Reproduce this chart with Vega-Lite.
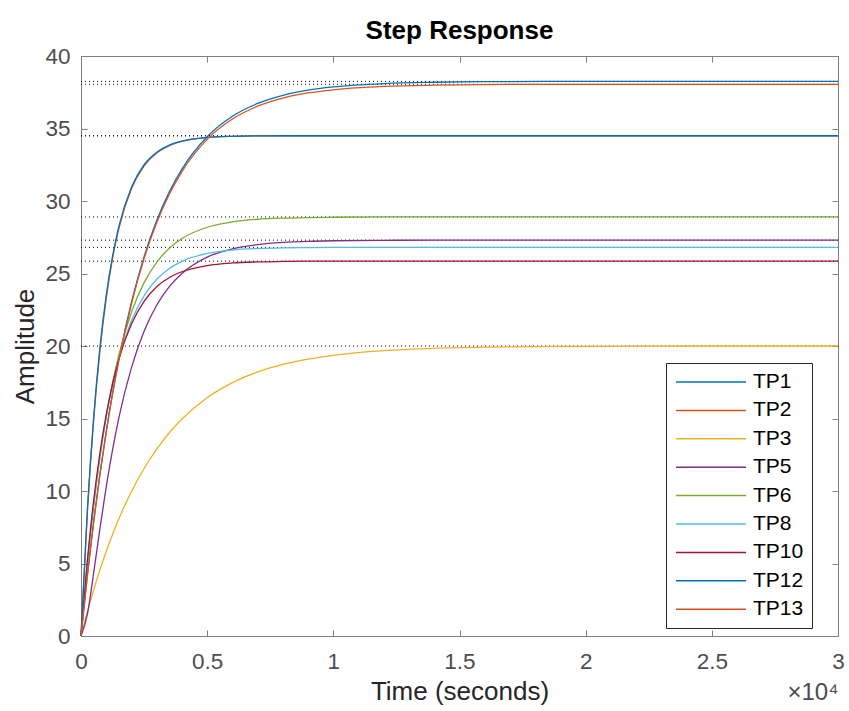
{
  "$schema": "https://vega.github.io/schema/vega-lite/v6.json",
  "width": 757,
  "height": 580,
  "autosize": {"type": "none"},
  "padding": {"left": 81, "top": 56, "right": 11, "bottom": 75},
  "background": "white",
  "title": {"text": "Step Response", "fontSize": 26, "fontWeight": "bold", "color": "#000000", "offset": 1, "anchor": "middle", "font": "Liberation Sans"},
  "config": {
    "font": "Liberation Sans",
    "view": {"stroke": "#7f7f7f", "strokeWidth": 1},
    "axis": {"grid": false, "domain": false, "tickColor": "#7f7f7f", "tickSize": -6, "labelFontSize": 22.5, "labelColor": "#4d4d4d", "titleFontSize": 26, "titleFontWeight": "normal", "titleColor": "#262626", "labelFlush": false}
  },
  "datasets": {
    "ss": [
      {"s": "TP1", "v": 38.25}, {"s": "TP13", "v": 38.05}, {"s": "TP2", "v": 34.5}, {"s": "TP12", "v": 34.5},
      {"s": "TP6", "v": 28.9}, {"s": "TP5", "v": 27.3}, {"s": "TP8", "v": 26.8}, {"s": "TP10", "v": 25.85}, {"s": "TP3", "v": 20.0}
    ],
    "curves": [
      {"s":"TP1","t":0,"a":0},{"s":"TP1","t":250,"a":4.16},{"s":"TP1","t":500,"a":7.87},{"s":"TP1","t":750,"a":11.18},{"s":"TP1","t":1000,"a":14.12},{"s":"TP1","t":1250,"a":16.75},{"s":"TP1","t":1500,"a":19.09},{"s":"TP1","t":2000,"a":23.03},{"s":"TP1","t":2500,"a":26.16},{"s":"TP1","t":3000,"a":28.65},{"s":"TP1","t":3500,"a":30.63},{"s":"TP1","t":4000,"a":32.2},{"s":"TP1","t":5000,"a":34.43},{"s":"TP1","t":6000,"a":35.84},{"s":"TP1","t":7000,"a":36.73},{"s":"TP1","t":8000,"a":37.29},{"s":"TP1","t":9000,"a":37.65},{"s":"TP1","t":10000,"a":37.87},{"s":"TP1","t":12000,"a":38.1},{"s":"TP1","t":14000,"a":38.19},{"s":"TP1","t":16000,"a":38.23},{"s":"TP1","t":20000,"a":38.25},{"s":"TP1","t":25000,"a":38.25},{"s":"TP1","t":30000,"a":38.25},
      {"s":"TP2","t":0,"a":0},{"s":"TP2","t":250,"a":8.45},{"s":"TP2","t":500,"a":14.84},{"s":"TP2","t":750,"a":19.66},{"s":"TP2","t":1000,"a":23.29},{"s":"TP2","t":1250,"a":26.03},{"s":"TP2","t":1500,"a":28.1},{"s":"TP2","t":2000,"a":30.85},{"s":"TP2","t":2500,"a":32.42},{"s":"TP2","t":3000,"a":33.31},{"s":"TP2","t":3500,"a":33.82},{"s":"TP2","t":4000,"a":34.11},{"s":"TP2","t":5000,"a":34.37},{"s":"TP2","t":6000,"a":34.46},{"s":"TP2","t":7000,"a":34.49},{"s":"TP2","t":8000,"a":34.5},{"s":"TP2","t":9000,"a":34.5},{"s":"TP2","t":10000,"a":34.5},{"s":"TP2","t":12000,"a":34.5},{"s":"TP2","t":14000,"a":34.5},{"s":"TP2","t":16000,"a":34.5},{"s":"TP2","t":20000,"a":34.5},{"s":"TP2","t":25000,"a":34.5},{"s":"TP2","t":30000,"a":34.5},
      {"s":"TP3","t":0,"a":0},{"s":"TP3","t":250,"a":1.65},{"s":"TP3","t":500,"a":3.17},{"s":"TP3","t":750,"a":4.56},{"s":"TP3","t":1000,"a":5.83},{"s":"TP3","t":1250,"a":7.0},{"s":"TP3","t":1500,"a":8.08},{"s":"TP3","t":2000,"a":9.97},{"s":"TP3","t":2500,"a":11.55},{"s":"TP3","t":3000,"a":12.89},{"s":"TP3","t":3500,"a":14.02},{"s":"TP3","t":4000,"a":14.96},{"s":"TP3","t":5000,"a":16.43},{"s":"TP3","t":6000,"a":17.47},{"s":"TP3","t":7000,"a":18.21},{"s":"TP3","t":8000,"a":18.73},{"s":"TP3","t":9000,"a":19.1},{"s":"TP3","t":10000,"a":19.36},{"s":"TP3","t":12000,"a":19.68},{"s":"TP3","t":14000,"a":19.84},{"s":"TP3","t":16000,"a":19.92},{"s":"TP3","t":20000,"a":19.98},{"s":"TP3","t":25000,"a":20.0},{"s":"TP3","t":30000,"a":20.0},
      {"s":"TP5","t":0,"a":0},{"s":"TP5","t":250,"a":1.47},{"s":"TP5","t":500,"a":4.33},{"s":"TP5","t":750,"a":7.41},{"s":"TP5","t":1000,"a":10.29},{"s":"TP5","t":1250,"a":12.84},{"s":"TP5","t":1500,"a":15.05},{"s":"TP5","t":2000,"a":18.51},{"s":"TP5","t":2500,"a":21.02},{"s":"TP5","t":3000,"a":22.81},{"s":"TP5","t":3500,"a":24.09},{"s":"TP5","t":4000,"a":25.0},{"s":"TP5","t":5000,"a":26.13},{"s":"TP5","t":6000,"a":26.7},{"s":"TP5","t":7000,"a":26.99},{"s":"TP5","t":8000,"a":27.14},{"s":"TP5","t":9000,"a":27.22},{"s":"TP5","t":10000,"a":27.26},{"s":"TP5","t":12000,"a":27.29},{"s":"TP5","t":14000,"a":27.3},{"s":"TP5","t":16000,"a":27.3},{"s":"TP5","t":20000,"a":27.3},{"s":"TP5","t":25000,"a":27.3},{"s":"TP5","t":30000,"a":27.3},
      {"s":"TP6","t":0,"a":0},{"s":"TP6","t":250,"a":4.89},{"s":"TP6","t":500,"a":8.93},{"s":"TP6","t":750,"a":12.32},{"s":"TP6","t":1000,"a":15.12},{"s":"TP6","t":1250,"a":17.45},{"s":"TP6","t":1500,"a":19.39},{"s":"TP6","t":2000,"a":22.33},{"s":"TP6","t":2500,"a":24.37},{"s":"TP6","t":3000,"a":25.77},{"s":"TP6","t":3500,"a":26.74},{"s":"TP6","t":4000,"a":27.41},{"s":"TP6","t":5000,"a":28.19},{"s":"TP6","t":6000,"a":28.56},{"s":"TP6","t":7000,"a":28.74},{"s":"TP6","t":8000,"a":28.82},{"s":"TP6","t":9000,"a":28.86},{"s":"TP6","t":10000,"a":28.88},{"s":"TP6","t":12000,"a":28.9},{"s":"TP6","t":14000,"a":28.9},{"s":"TP6","t":16000,"a":28.9},{"s":"TP6","t":20000,"a":28.9},{"s":"TP6","t":25000,"a":28.9},{"s":"TP6","t":30000,"a":28.9},
      {"s":"TP8","t":0,"a":0},{"s":"TP8","t":250,"a":5.04},{"s":"TP8","t":500,"a":9.13},{"s":"TP8","t":750,"a":12.45},{"s":"TP8","t":1000,"a":15.15},{"s":"TP8","t":1250,"a":17.34},{"s":"TP8","t":1500,"a":19.12},{"s":"TP8","t":2000,"a":21.74},{"s":"TP8","t":2500,"a":23.46},{"s":"TP8","t":3000,"a":24.6},{"s":"TP8","t":3500,"a":25.35},{"s":"TP8","t":4000,"a":25.84},{"s":"TP8","t":5000,"a":26.38},{"s":"TP8","t":6000,"a":26.62},{"s":"TP8","t":7000,"a":26.72},{"s":"TP8","t":8000,"a":26.77},{"s":"TP8","t":9000,"a":26.79},{"s":"TP8","t":10000,"a":26.8},{"s":"TP8","t":12000,"a":26.8},{"s":"TP8","t":14000,"a":26.8},{"s":"TP8","t":16000,"a":26.8},{"s":"TP8","t":20000,"a":26.8},{"s":"TP8","t":25000,"a":26.8},{"s":"TP8","t":30000,"a":26.8},
      {"s":"TP10","t":0,"a":0},{"s":"TP10","t":250,"a":5.17},{"s":"TP10","t":500,"a":9.31},{"s":"TP10","t":750,"a":12.62},{"s":"TP10","t":1000,"a":15.26},{"s":"TP10","t":1250,"a":17.38},{"s":"TP10","t":1500,"a":19.08},{"s":"TP10","t":2000,"a":21.51},{"s":"TP10","t":2500,"a":23.08},{"s":"TP10","t":3000,"a":24.08},{"s":"TP10","t":3500,"a":24.72},{"s":"TP10","t":4000,"a":25.12},{"s":"TP10","t":5000,"a":25.55},{"s":"TP10","t":6000,"a":25.73},{"s":"TP10","t":7000,"a":25.8},{"s":"TP10","t":8000,"a":25.83},{"s":"TP10","t":9000,"a":25.85},{"s":"TP10","t":10000,"a":25.85},{"s":"TP10","t":12000,"a":25.85},{"s":"TP10","t":14000,"a":25.85},{"s":"TP10","t":16000,"a":25.85},{"s":"TP10","t":20000,"a":25.85},{"s":"TP10","t":25000,"a":25.85},{"s":"TP10","t":30000,"a":25.85},
      {"s":"TP12","t":0,"a":0},{"s":"TP12","t":250,"a":8.6},{"s":"TP12","t":500,"a":15.05},{"s":"TP12","t":750,"a":19.9},{"s":"TP12","t":1000,"a":23.5},{"s":"TP12","t":1250,"a":26.2},{"s":"TP12","t":1500,"a":28.25},{"s":"TP12","t":2000,"a":30.95},{"s":"TP12","t":2500,"a":32.5},{"s":"TP12","t":3000,"a":33.36},{"s":"TP12","t":3500,"a":33.85},{"s":"TP12","t":4000,"a":34.13},{"s":"TP12","t":5000,"a":34.38},{"s":"TP12","t":6000,"a":34.46},{"s":"TP12","t":7000,"a":34.49},{"s":"TP12","t":8000,"a":34.5},{"s":"TP12","t":9000,"a":34.5},{"s":"TP12","t":10000,"a":34.5},{"s":"TP12","t":12000,"a":34.5},{"s":"TP12","t":14000,"a":34.5},{"s":"TP12","t":16000,"a":34.5},{"s":"TP12","t":20000,"a":34.5},{"s":"TP12","t":25000,"a":34.5},{"s":"TP12","t":30000,"a":34.5},
      {"s":"TP13","t":0,"a":0},{"s":"TP13","t":250,"a":4.14},{"s":"TP13","t":500,"a":7.83},{"s":"TP13","t":750,"a":11.12},{"s":"TP13","t":1000,"a":14.05},{"s":"TP13","t":1250,"a":16.66},{"s":"TP13","t":1500,"a":18.99},{"s":"TP13","t":2000,"a":22.91},{"s":"TP13","t":2500,"a":26.03},{"s":"TP13","t":3000,"a":28.5},{"s":"TP13","t":3500,"a":30.47},{"s":"TP13","t":4000,"a":32.03},{"s":"TP13","t":5000,"a":34.25},{"s":"TP13","t":6000,"a":35.65},{"s":"TP13","t":7000,"a":36.54},{"s":"TP13","t":8000,"a":37.1},{"s":"TP13","t":9000,"a":37.45},{"s":"TP13","t":10000,"a":37.67},{"s":"TP13","t":12000,"a":37.9},{"s":"TP13","t":14000,"a":37.99},{"s":"TP13","t":16000,"a":38.03},{"s":"TP13","t":20000,"a":38.05},{"s":"TP13","t":25000,"a":38.05},{"s":"TP13","t":30000,"a":38.05}
    ]
  },
  "layer": [
    {
      "data": {"name": "ss"},
      "mark": {"type": "rule", "color": "#000000", "strokeWidth": 1, "strokeDash": [1, 3]},
      "encoding": {
        "y": {"field": "v", "type": "quantitative", "scale": {"domain": [0, 40], "nice": false, "zero": true},
          "axis": {"orient": "left", "values": [0,5,10,15,20,25,30,35,40], "title": "Amplitude", "labelPadding": 17, "titlePadding": 6}}
      }
    },
    {
      "data": {"name": "curves"},
      "mark": {"type": "line", "strokeWidth": 1.3, "interpolate": "monotone"},
      "encoding": {
        "x": {"field": "t", "type": "quantitative", "scale": {"domain": [0, 30000], "nice": false},
          "axis": {"orient": "bottom", "values": [0,5000,10000,15000,20000,25000,30000], "labelExpr": "'' + datum.value/10000", "title": "Time (seconds)", "labelPadding": 20, "titlePadding": 6}},
        "y": {"field": "a", "type": "quantitative", "scale": {"domain": [0, 40], "nice": false}, "axis": null},
        "color": {"field": "s", "type": "nominal",
          "scale": {"domain": ["TP1","TP2","TP3","TP5","TP6","TP8","TP10","TP12","TP13"],
                    "range": ["#0072BD","#D95319","#EDB120","#7E2F8E","#77AC30","#4DBEEE","#A2142F","#0072BD","#D95319"]},
          "legend": {"orient": "none", "legendX": 585, "legendY": 307, "title": null, "direction": "vertical",
            "symbolType": "M-3.5,0H3.5", "symbolSize": 400, "symbolStrokeWidth": 1.5, "symbolOffset": 26, "labelOffset": 31,
            "labelFontSize": 21, "labelColor": "#000000", "padding": 8, "rowPadding": 7.4,
            "strokeColor": "#262626", "fillColor": "#ffffff", "cornerRadius": 0}}
      }
    },
    {
      "data": {"name": "curves"},
      "mark": {"type": "point", "opacity": 0},
      "encoding": {
        "x": {"field": "t", "type": "quantitative", "axis": {"orient": "top", "labels": false, "title": null, "values": [0,5000,10000,15000,20000,25000,30000]}},
        "y": {"field": "a", "type": "quantitative", "axis": {"orient": "right", "labels": false, "title": null, "values": [0,5,10,15,20,25,30,35,40]}}
      }
    },
    {
      "data": {"name": "curves"},
      "mark": {"type": "point", "opacity": 0},
      "encoding": {
        "x": {"field": "t", "type": "quantitative", "axis": {"orient": "bottom", "labels": false, "ticks": false, "title": "×10⁴", "titleAnchor": "end", "titleFontSize": 24, "titleColor": "#4d4d4d", "titlePadding": 44}}
      }
    }
  ],
  "resolve": {"axis": {"x": "independent", "y": "independent"}}
}
